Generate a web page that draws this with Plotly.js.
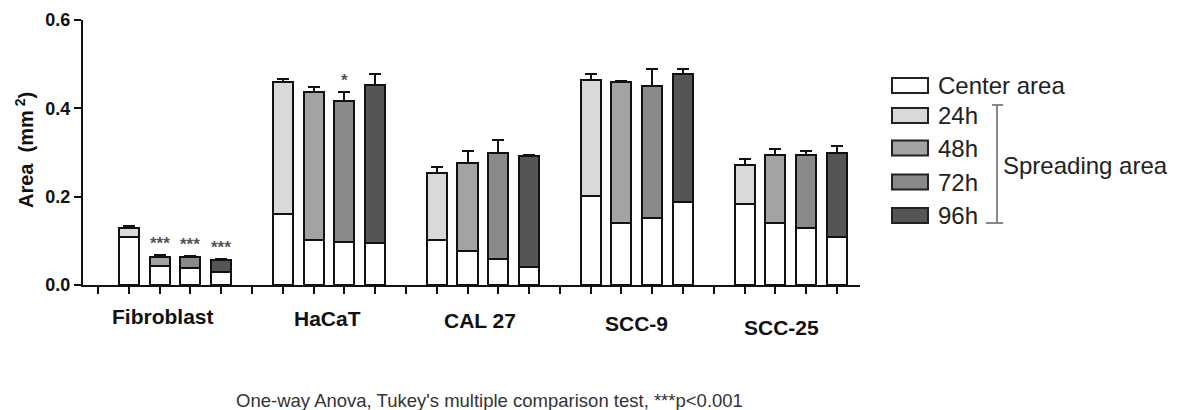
<!DOCTYPE html>
<html>
<head>
<meta charset="utf-8">
<script src="https://cdn.plot.ly/plotly-3.0.1.min.js"></script>
<style>
  html, body { margin: 0; padding: 0; background: #ffffff; }
  #chart { width: 1184px; height: 410px; }
</style>
</head>
<body>
<div id="chart"></div>
<script>
// ---------------- DATA ----------------
const groups = ['Fibroblast', 'HaCaT', 'CAL 27', 'SCC-9', 'SCC-25'];
const timepoints = ['24h', '48h', '72h', '96h'];

// Center area (white part) per group, for each timepoint bar
const center24 = [0.108, 0.160, 0.102, 0.201, 0.183];
const center48 = [0.042, 0.102, 0.077, 0.140, 0.140];
const center72 = [0.038, 0.098, 0.058, 0.152, 0.128];
const center96 = [0.030, 0.094, 0.040, 0.187, 0.109];

// Total area (top of bar) per group
const total24 = [0.130, 0.460, 0.253, 0.464, 0.272];
const total48 = [0.064, 0.437, 0.276, 0.460, 0.294];
const total72 = [0.063, 0.417, 0.298, 0.451, 0.294];
const total96 = [0.057, 0.453, 0.293, 0.478, 0.298];

// Upper error (SEM) per group
const err24 = [0.003, 0.007, 0.015, 0.013, 0.013];
const err48 = [0.004, 0.011, 0.028, 0.002, 0.014];
const err72 = [0.002, 0.019, 0.030, 0.037, 0.010];
const err96 = [0.001, 0.024, 0.002, 0.010, 0.016];

// Significance marks
const sig24 = ['', '', '', '', ''];
const sig48 = ['***', '', '', '', ''];
const sig72 = ['***', '*', '', '', ''];
const sig96 = ['***', '', '', '', ''];

const legendLabels = ['Center area', '24h', '48h', '72h', '96h'];
const bracketLabel = 'Spreading area';
const yTitle = 'Area  (mm<sup> 2</sup>)';
const footnote = "One-way Anova, Tukey's multiple comparison test, ***p<0.001";

// ---------------- STYLE ----------------
const fills = ['#ffffff', '#d9d9d9', '#a3a3a3', '#8a8a8a', '#555555'];
const FONT = 'Liberation Sans, Arial, Helvetica, sans-serif';

const centers = [center24, center48, center72, center96];
const totals = [total24, total48, total72, total96];
const errs = [err24, err48, err72, err96];
const sigs = [sig24, sig48, sig72, sig96];

// slot position: each group has 4 bars followed by an empty slot
function slot(g, t) { return g * 5 + 1 + t; }

// plot-area pixel helpers (plot area: x 83..860, y 20..285)
const L = 83, R = 860, T = 20, B = 285;
const W = 1184, H = 410;
function px(x) { return (x - L) / (R - L); }
function py(y) { return (B - y) / (B - T); }

const traces = [];
// center trace
const cx = [], cy = [];
for (let t = 0; t < timepoints.length; t++) {
  for (let g = 0; g < groups.length; g++) {
    cx.push(slot(g, t));
    cy.push(centers[t][g]);
  }
}
traces.push({
  type: 'bar', name: legendLabels[0], x: cx, y: cy,
  marker: { color: fills[0], line: { color: '#111', width: 2 } },
  showlegend: false, hoverinfo: 'y'
});
for (let t = 0; t < timepoints.length; t++) {
  const xs = [], ys = [], es = [], zs = [];
  for (let g = 0; g < groups.length; g++) {
    xs.push(slot(g, t));
    ys.push(totals[t][g] - centers[t][g]);
    es.push(errs[t][g]);
    zs.push(0);
  }
  traces.push({
    type: 'bar', name: timepoints[t], x: xs, y: ys,
    marker: { color: fills[t + 1], line: { color: '#111', width: 2 } },
    error_y: { type: 'data', array: es, arrayminus: zs, symmetric: false,
               color: '#111', thickness: 2, width: 6 },
    showlegend: false, hoverinfo: 'y'
  });
}

const annotations = [];
const shapes = [];

// significance marks
for (let t = 0; t < timepoints.length; t++) {
  for (let g = 0; g < groups.length; g++) {
    if (sigs[t][g]) {
      annotations.push({
        xref: 'x', yref: 'y', x: slot(g, t), y: totals[t][g] + errs[t][g],
        text: '<b>' + sigs[t][g] + '</b>', showarrow: false, yanchor: 'bottom', yshift: 0,
        font: { family: FONT, size: 17, color: '#555' }
      });
    }
  }
}

// group labels (slightly staggered like the reference)
const labelX = [2.1, 7.45, 12.4, 17.5, 22.2];
const labelY = [316, 318, 320, 323, 327];
groups.forEach((g, i) => {
  annotations.push({
    xref: 'x', yref: 'paper', x: labelX[i], y: py(labelY[i]),
    text: '<b>' + g + '</b>', showarrow: false, xanchor: 'center', yanchor: 'middle',
    font: { family: FONT, size: 21, color: '#111' }
  });
});

// y-axis title
annotations.push({
  xref: 'paper', yref: 'paper', x: px(24), y: py(150),
  text: '<b>' + yTitle + '</b>', textangle: -90, showarrow: false,
  xanchor: 'center', yanchor: 'middle',
  font: { family: FONT, size: 20, color: '#111' }
});

// legend (custom, with bracket)
const legY = [85.5, 115.5, 148, 182, 215.5];
legendLabels.forEach((lab, i) => {
  shapes.push({
    type: 'rect', xref: 'paper', yref: 'paper',
    x0: px(892), x1: px(928), y0: py(legY[i] - 7.5), y1: py(legY[i] + 7.5),
    fillcolor: fills[i], line: { color: '#222', width: 2 }
  });
  annotations.push({
    xref: 'paper', yref: 'paper', x: px(936), y: py(legY[i]),
    text: lab, showarrow: false, xanchor: 'left', yanchor: 'middle',
    font: { family: FONT, size: 24, color: '#222' }
  });
});
// bracket
const brc = '#888';
shapes.push({ type: 'line', xref: 'paper', yref: 'paper', x0: px(997), x1: px(997), y0: py(105), y1: py(223), line: { color: brc, width: 2 } });
shapes.push({ type: 'line', xref: 'paper', yref: 'paper', x0: px(992), x1: px(1003), y0: py(105), y1: py(105), line: { color: brc, width: 2 } });
shapes.push({ type: 'line', xref: 'paper', yref: 'paper', x0: px(986), x1: px(1003), y0: py(223), y1: py(223), line: { color: brc, width: 2 } });
annotations.push({
  xref: 'paper', yref: 'paper', x: px(1001), y: py(165),
  text: bracketLabel, showarrow: false, xanchor: 'left', yanchor: 'middle',
  font: { family: FONT, size: 24, color: '#222' }
});

// footnote
annotations.push({
  xref: 'paper', yref: 'paper', x: px(489), y: py(400),
  text: footnote, showarrow: false, xanchor: 'center', yanchor: 'middle',
  font: { family: FONT, size: 18.5, color: '#333' }
});

const tickSlots = [];
for (let i = 0; i <= groups.length * 5 - 1; i++) tickSlots.push(i);

const layout = {
  width: W, height: H,
  margin: { l: L, r: W - R, t: T, b: H - B, pad: 0 },
  paper_bgcolor: '#ffffff', plot_bgcolor: '#ffffff',
  barmode: 'stack', bargap: 0.35,
  showlegend: false,
  xaxis: {
    range: [-0.49, 24.75], tickvals: tickSlots, showticklabels: false,
    ticks: 'outside', ticklen: 7, tickwidth: 2, tickcolor: '#111',
    showline: true, linecolor: '#111', linewidth: 2,
    showgrid: false, zeroline: false, fixedrange: true
  },
  yaxis: {
    range: [0, 0.6], tickvals: [0, 0.2, 0.4, 0.6], tickformat: '.1f',
    ticks: 'outside', ticklen: 7, tickwidth: 2, tickcolor: '#111',
    showline: true, linecolor: '#111', linewidth: 2,
    showgrid: false, zeroline: false, fixedrange: true,
    tickfont: { family: FONT, size: 18, color: '#111', weight: 'bold' }
  },
  annotations: annotations,
  shapes: shapes
};

Plotly.newPlot('chart', traces, layout, { displayModeBar: false, staticPlot: true });
</script>
</body>
</html>
